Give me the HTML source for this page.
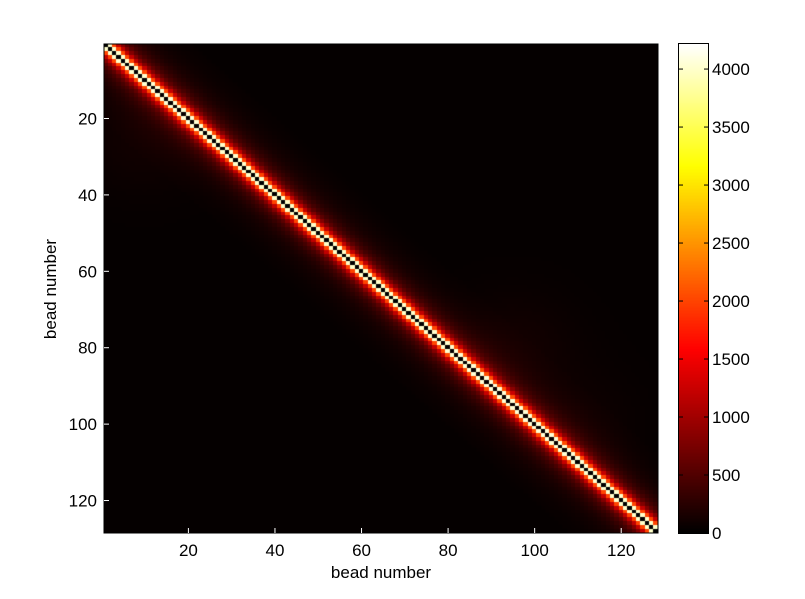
<!DOCTYPE html>
<html><head><meta charset="utf-8"><style>
body{margin:0;background:#fff;width:805px;height:599px;overflow:hidden;font-family:"Liberation Sans",sans-serif}
#root{position:relative;width:805px;height:599px}
canvas{position:absolute}
</style></head><body><div id="root">
<canvas id="hm" width="554" height="489" style="left:104px;top:44px;width:554px;height:489px"></canvas>
<canvas id="cb" width="29" height="489" style="left:679px;top:44px;width:29px;height:489px;outline:1px solid #000"></canvas>
<svg id="ax" width="805" height="599" style="position:absolute;left:0;top:0"></svg>
</div>
<script>
const N = 128;
const vmax = 4216;
// value by distance from diagonal |i-j|
const distProfile = [0, 4000, 2000, 1200, 800, 560, 420, 330, 260, 210, 170, 140, 120, 100, 88, 76, 66, 58, 52, 47, 43];
const farValue = 32;
// broad bumps of extra contact (bead ranges)
const bumpCenters = [[10,25],[95,80],[110,100]];
const bumpValues = [80, 90, 60];
const xTicks = [20,40,60,80,100,120];
const yTicks = [20,40,60,80,100,120];
const cbTicks = [0,500,1000,1500,2000,2500,3000,3500,4000];

function hot(v){let t=Math.max(0,Math.min(1,v/vmax));
 let r=Math.min(1,t/0.375),g=Math.max(0,Math.min(1,(t-0.375)/0.375)),b=Math.max(0,(t-0.75)/0.25);
 return [r*255|0,g*255|0,b*255|0];}
const L=104,T=44,W=554,H=489,cw=W/N,ch=H/N;
const xs=v=>L+(v-0.5)*cw, ys=v=>T+(v-0.5)*ch;
const ctx=document.getElementById('hm').getContext('2d');
for(let i=0;i<N;i++)for(let j=0;j<N;j++){
 const d=Math.abs(i-j);let v=d<distProfile.length?distProfile[d]:farValue;
 bumpCenters.forEach((c,k)=>{const dx=(j+1-c[0]),dy=(i+1-c[1]);v+=bumpValues[k]*Math.exp(-(dx*dx+dy*dy)/200);});
 const [r,g,b]=hot(v);ctx.fillStyle=`rgb(${r},${g},${b})`;
 ctx.fillRect(Math.floor(j*cw),Math.floor(i*ch),Math.ceil(cw)+1,Math.ceil(ch)+1);}
const cc=document.getElementById('cb').getContext('2d');
for(let y=0;y<H;y++){const [r,g,b]=hot(vmax*(1-y/H));cc.fillStyle=`rgb(${r},${g},${b})`;cc.fillRect(0,y,29,1);}
const svg=document.getElementById('ax');const NS='http://www.w3.org/2000/svg';
function el(tag,a,txt){const e=document.createElementNS(NS,tag);for(const k in a)e.setAttribute(k,a[k]);if(txt!=null)e.textContent=txt;svg.appendChild(e);return e;}
const frame=el('rect',{x:L,y:T,width:W,height:H,fill:'none',stroke:'#000','stroke-width':1});


xTicks.forEach(v=>{const x=xs(v);
 el('line',{x1:x,y1:T+H,x2:x,y2:T+H-5,stroke:'#fff'});
 const t=el('text',{x:x,y:T+H+23,'text-anchor':'middle','font-size':17,'font-family':'Liberation Sans'},v);
 
 });
yTicks.forEach(v=>{const y=ys(v);
 el('line',{x1:L,y1:y,x2:L+5,y2:y,stroke:'#fff'});
 const t=el('text',{x:L-7,y:y+6,'text-anchor':'end','font-size':17,'font-family':'Liberation Sans'},v);
 
 });
cbTicks.forEach(v=>{const y=T+H-v/vmax*H;
 el('line',{x1:679,y1:y,x2:683,y2:y,stroke:'#000'});el('line',{x1:704,y1:y,x2:708,y2:y,stroke:'#000'});
 const t=el('text',{x:712,y:y+6,'font-size':17,'font-family':'Liberation Sans'},v);
 
 });
const xl=el('text',{x:381,y:578,'text-anchor':'middle','font-size':17,'font-family':'Liberation Sans'},'bead number');


const yl=el('text',{x:0,y:0,'text-anchor':'middle','font-size':17,'font-family':'Liberation Sans',transform:'translate(56,289) rotate(-90)'},'bead number');


</script></body></html>
